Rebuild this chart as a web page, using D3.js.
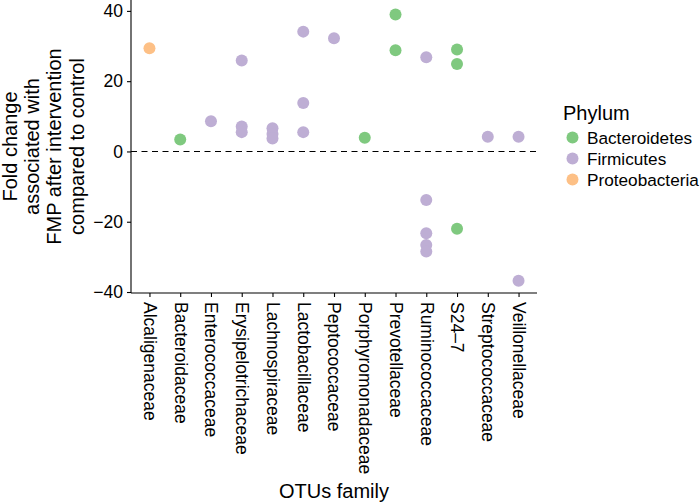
<!DOCTYPE html>
<html>
<head>
<meta charset="utf-8">
<script src="https://cdn.jsdelivr.net/npm/d3@7"></script>
<style>
  body { margin: 0; background: #fff; }
  svg text { font-family: "Liberation Sans", Arial, Helvetica, sans-serif; fill: #000; }
</style>
</head>
<body>
<script>
// families on the x axis
const families = ["Alcaligenaceae", "Bacteroidaceae", "Enterococcaceae", "Erysipelotrichaceae",
  "Lachnospiraceae", "Lactobacillaceae", "Peptococcaceae", "Porphyromonadaceae",
  "Prevotellaceae", "Ruminococcaceae", "S24\u20137", "Streptococcaceae", "Veillonellaceae"];

const phyla = ["Bacteroidetes", "Firmicutes", "Proteobacteria"];
const phylumColors = ["#7fc97f", "#beaed4", "#fdc086"];

// one entry per OTU
const otuFamily = ["Alcaligenaceae", "Bacteroidaceae", "Enterococcaceae",
  "Erysipelotrichaceae", "Erysipelotrichaceae", "Erysipelotrichaceae",
  "Lachnospiraceae", "Lachnospiraceae", "Lachnospiraceae",
  "Lactobacillaceae", "Lactobacillaceae", "Lactobacillaceae",
  "Peptococcaceae", "Porphyromonadaceae",
  "Prevotellaceae", "Prevotellaceae",
  "Ruminococcaceae", "Ruminococcaceae", "Ruminococcaceae", "Ruminococcaceae", "Ruminococcaceae",
  "S24\u20137", "S24\u20137", "S24\u20137",
  "Streptococcaceae", "Veillonellaceae", "Veillonellaceae"];
const otuPhylum = ["Proteobacteria", "Bacteroidetes", "Firmicutes",
  "Firmicutes", "Firmicutes", "Firmicutes",
  "Firmicutes", "Firmicutes", "Firmicutes",
  "Firmicutes", "Firmicutes", "Firmicutes",
  "Firmicutes", "Bacteroidetes",
  "Bacteroidetes", "Bacteroidetes",
  "Firmicutes", "Firmicutes", "Firmicutes", "Firmicutes", "Firmicutes",
  "Bacteroidetes", "Bacteroidetes", "Bacteroidetes",
  "Firmicutes", "Firmicutes", "Firmicutes"];
const foldChange = [29.4, 3.4, 8.6,
  25.9, 7.1, 5.5,
  6.6, 5.0, 3.7,
  34.1, 13.8, 5.5,
  32.2, 3.9,
  39.0, 28.8,
  26.8, -13.8, -23.3, -26.6, -28.5,
  29.0, 24.9, -22.0,
  4.2, 4.2, -36.8];

const yTicks = [-40, -20, 0, 20, 40];

const width = 700, height = 504;
const margin = { left: 131, right: 163, top: 0, bottom: 211 };

const svg = d3.select("body").append("svg")
  .attr("width", width)
  .attr("height", height);

const x = d3.scalePoint()
  .domain(families)
  .range([margin.left, width - margin.right])
  .padding(0.6);

const y = d3.scaleLinear()
  .domain([-40.28, 43.1])
  .range([height - margin.bottom, margin.top]);

const color = d3.scaleOrdinal().domain(phyla).range(phylumColors);

// zero reference line
svg.append("line")
  .attr("x1", margin.left).attr("x2", width - margin.right)
  .attr("y1", y(0)).attr("y2", y(0))
  .attr("stroke", "#000")
  .attr("stroke-width", 1.1)
  .attr("stroke-dasharray", "6,4.5");

// points
const pts = otuFamily.map((f, i) => ({ family: f, phylum: otuPhylum[i], value: foldChange[i] }));
svg.append("g").selectAll("circle")
  .data(pts)
  .enter().append("circle")
  .attr("cx", d => x(d.family))
  .attr("cy", d => y(d.value))
  .attr("r", 6)
  .attr("fill", d => color(d.phylum));

// axes
const yAxis = svg.append("g")
  .attr("transform", "translate(" + margin.left + ",0)")
  .call(d3.axisLeft(y).tickValues(yTicks).tickSize(4).tickPadding(4)
    .tickFormat(d => d < 0 ? "\u2212" + Math.abs(d) : d));
yAxis.select(".domain").attr("d", "M0," + y.range()[1] + "V" + y.range()[0]);

const xAxis = svg.append("g")
  .attr("transform", "translate(0," + (height - margin.bottom) + ")")
  .call(d3.axisBottom(x).tickSize(4).tickPadding(4));
xAxis.select(".domain").attr("d", "M" + margin.left + ",0H" + (width - margin.right));

svg.selectAll(".domain").attr("stroke", "#000").attr("stroke-width", 1.1);
svg.selectAll(".tick line").attr("stroke", "#000").attr("stroke-width", 1.1);
yAxis.selectAll("text").attr("font-size", 17.5).attr("font-family", null);
xAxis.selectAll("text")
  .attr("font-size", 17.5)
  .attr("font-family", null)
  .attr("transform", "rotate(90)")
  .attr("x", 9).attr("y", 0).attr("dy", "0.35em")
  .style("text-anchor", "start");

// axis titles
const yTitle = ["Fold change", "associated with", "FMP after intervention", "compared to control"];
svg.append("text")
  .attr("transform", "translate(17," + y.range()[0] / 2 + ") rotate(-90)")
  .attr("text-anchor", "middle")
  .attr("font-size", 20)
  .selectAll("tspan")
  .data(yTitle)
  .enter().append("tspan")
  .attr("x", 0)
  .attr("dy", (d, i) => i === 0 ? 0 : 22.2)
  .text(d => d);

svg.append("text")
  .attr("x", (margin.left + width - margin.right) / 2)
  .attr("y", 498)
  .attr("text-anchor", "middle")
  .attr("font-size", 20)
  .text("OTUs family");

// legend
const legend = svg.append("g").attr("transform", "translate(563,0)");
legend.append("text")
  .attr("x", 0).attr("y", 120)
  .attr("font-size", 20)
  .text("Phylum");
const item = legend.selectAll(".item")
  .data(phyla)
  .enter().append("g")
  .attr("class", "item")
  .attr("transform", (d, i) => "translate(0," + (137.5 + i * 21) + ")");
item.append("circle")
  .attr("cx", 9.5).attr("cy", 0).attr("r", 6)
  .attr("fill", d => color(d));
item.append("text")
  .attr("x", 24).attr("dy", "0.35em")
  .attr("font-size", 17.2)
  .text(d => d);
</script>
</body>
</html>
